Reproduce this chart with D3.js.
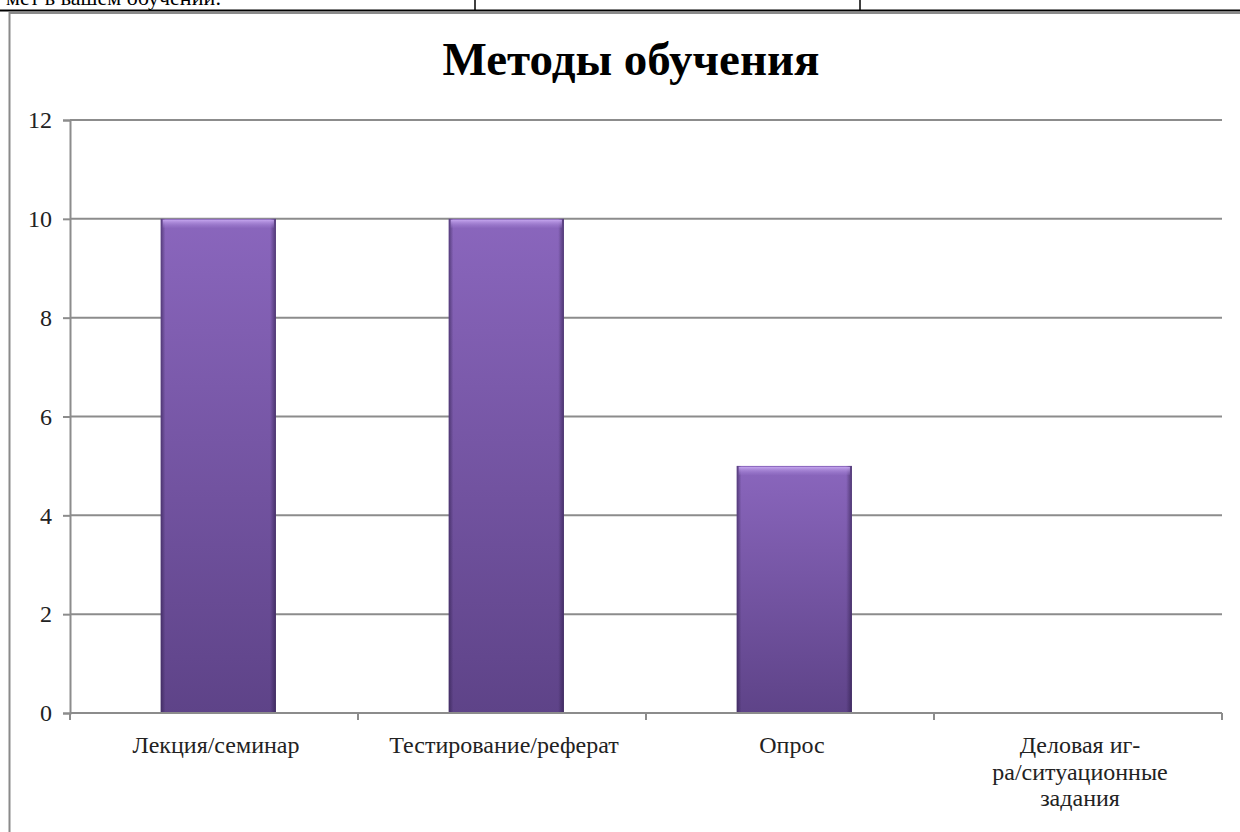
<!DOCTYPE html>
<html><head><meta charset="utf-8">
<script src="https://cdn.jsdelivr.net/npm/d3@7"></script>
<style>
html,body{margin:0;padding:0;background:#fff;overflow:hidden;}
svg{display:block;}
</style></head>
<body>
<svg id="c" width="1240" height="832"></svg>
<script>
const categories = ["Лекция/семинар", "Тестирование/реферат", "Опрос", "Деловая иг-|ра/ситуационные|задания"];
const values = [10, 10, 5, 0];
const yTicks = [0, 2, 4, 6, 8, 10, 12];
const title = "Методы обучения";
const headerText = "мет в вашем обучении:";

const svg = d3.select("#c");
const W = 1240, H = 832;
const m = {left: 70, right: 18, top: 120, bottom: 119};
const serif = "Liberation Serif, Times New Roman, serif";

// Table remnant at top
svg.append("text").attr("x", 6).attr("y", 5)
  .attr("font-family", serif)
  .attr("font-size", 22).attr("fill", "#000").text(headerText);
svg.append("line").attr("x1", 0).attr("x2", W).attr("y1", 10.5).attr("y2", 10.5)
  .attr("stroke", "#000").attr("stroke-width", 2);
[475, 860].forEach(x => svg.append("line").attr("x1", x).attr("x2", x).attr("y1", 0).attr("y2", 10)
  .attr("stroke", "#000").attr("stroke-width", 1.5));

// Chart frame
svg.append("rect").attr("x", 9.5).attr("y", 13).attr("width", W + 20).attr("height", H)
  .attr("fill", "#fff").attr("stroke", "#8a8a8a").attr("stroke-width", 2);

// Title
svg.append("text").attr("x", 631).attr("y", 75).attr("text-anchor", "middle")
  .attr("font-family", serif)
  .attr("font-weight", "bold").attr("font-size", 47).attr("fill", "#000").text(title);

const x = d3.scaleBand().domain(categories).range([m.left, W - m.right])
  .paddingInner(0.6).paddingOuter(0.3).align(0.525);
const y = d3.scaleLinear().domain([0, 12]).range([H - m.bottom, m.top]);

// Gridlines
svg.append("g").selectAll("line").data(yTicks.filter(d => d > 0)).join("line")
  .attr("x1", m.left).attr("x2", W - m.right)
  .attr("y1", d => y(d)).attr("y2", d => y(d))
  .attr("stroke", "#8c8c8c").attr("stroke-width", 2);

// Gradients
const defs = svg.append("defs");
const gv = defs.append("linearGradient").attr("id", "gv").attr("x1", 0).attr("y1", 0).attr("x2", 0).attr("y2", 1);
gv.append("stop").attr("offset", "0%").attr("stop-color", "#8a66bd");
gv.append("stop").attr("offset", "100%").attr("stop-color", "#5e4388");
const gh = defs.append("linearGradient").attr("id", "gh").attr("x1", 0).attr("y1", 0).attr("x2", 1).attr("y2", 0);
gh.append("stop").attr("offset", "0%").attr("stop-color", "#2a1a45").attr("stop-opacity", 0.55);
gh.append("stop").attr("offset", "4%").attr("stop-color", "#2a1a45").attr("stop-opacity", 0.0);
gh.append("stop").attr("offset", "95%").attr("stop-color", "#2a1a45").attr("stop-opacity", 0.0);
gh.append("stop").attr("offset", "100%").attr("stop-color", "#2a1a45").attr("stop-opacity", 0.6);
const gt = defs.append("linearGradient").attr("id", "gt").attr("x1", 0).attr("y1", 0).attr("x2", 0).attr("y2", 1);
gt.append("stop").attr("offset", "0%").attr("stop-color", "#c7a8f0").attr("stop-opacity", 0.95);
gt.append("stop").attr("offset", "100%").attr("stop-color", "#9a78cc").attr("stop-opacity", 0.2);

const data = categories.map((c, i) => ({c, v: values[i]})).filter(d => d.v > 0);
const bars = svg.append("g");
bars.selectAll("rect.b").data(data).join("rect").attr("class", "b")
  .attr("x", d => x(d.c)).attr("width", x.bandwidth())
  .attr("y", d => y(d.v)).attr("height", d => y(0) - y(d.v))
  .attr("fill", "url(#gv)");
bars.selectAll("rect.s").data(data).join("rect").attr("class", "s")
  .attr("x", d => x(d.c)).attr("width", x.bandwidth())
  .attr("y", d => y(d.v)).attr("height", d => y(0) - y(d.v))
  .attr("fill", "url(#gh)");
bars.selectAll("rect.t").data(data).join("rect").attr("class", "t")
  .attr("x", d => x(d.c) + 2).attr("width", x.bandwidth() - 4)
  .attr("y", d => y(d.v) + 1).attr("height", 8)
  .attr("fill", "url(#gt)");

// Y axis
const yAxis = svg.append("g").attr("transform", `translate(${m.left},0)`)
  .call(d3.axisLeft(y).tickValues(yTicks).tickSize(7).tickPadding(11));
yAxis.select(".domain").attr("stroke", "#8c8c8c").attr("stroke-width", 2);
yAxis.selectAll(".tick line").attr("stroke", "#8c8c8c").attr("stroke-width", 2);
yAxis.selectAll(".tick text").attr("font-family", serif)
  .attr("font-size", 24).attr("fill", "#222");

// X axis
const xAxisG = svg.append("g").attr("transform", `translate(0,${y(0)})`);
xAxisG.append("line").attr("x1", m.left).attr("x2", W - m.right).attr("y1", 0).attr("y2", 0)
  .attr("stroke", "#8c8c8c").attr("stroke-width", 2);
const [r0, r1] = x.range();
const step = (r1 - r0) / categories.length;
const bpos = d3.range(categories.length + 1).map(i => r0 + i * step);
xAxisG.selectAll("line.tk").data(bpos).join("line").attr("class", "tk")
  .attr("x1", d => d).attr("x2", d => d).attr("y1", 0).attr("y2", 7)
  .attr("stroke", "#8c8c8c").attr("stroke-width", 2);

const labels = xAxisG.selectAll("text").data(categories).join("text")
  .attr("text-anchor", "middle")
  .attr("font-family", serif)
  .attr("font-size", 24).attr("fill", "#222")
  .attr("transform", (d, i) => `translate(${r0 + (i + 0.5) * step + 2},40)`);
labels.each(function(d) {
  const parts = d.split("|");
  d3.select(this).selectAll("tspan").data(parts).join("tspan")
    .attr("x", 0).attr("dy", (p, i) => i === 0 ? 0 : 26.5).text(p => p);
});
</script>
</body></html>
